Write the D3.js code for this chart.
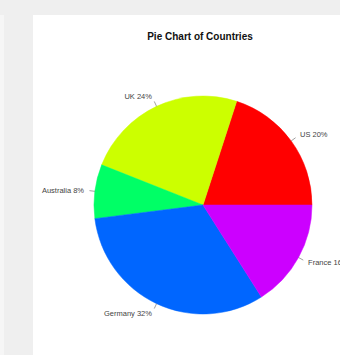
<!DOCTYPE html>
<html>
<head>
<meta charset="utf-8">
<script src="https://cdn.jsdelivr.net/npm/d3@7"></script>
<style>
  html, body { margin: 0; padding: 0; background: #efefef; }
  svg { display: block; }
</style>
</head>
<body>
<svg id="chart" width="340" height="355"></svg>
<script>
const countries = ["US", "UK", "Australia", "Germany", "France"];
const shares = [20, 24, 8, 32, 16];
const colors = ["#FF0000", "#CCFF00", "#00FF66", "#0066FF", "#CC00FF"];
const chartTitle = "Pie Chart of Countries";

const svg = d3.select("#chart");
// page frame
svg.append("rect").attr("x", 0).attr("y", 0).attr("width", 340).attr("height", 355).attr("fill", "#efefef");
svg.append("rect").attr("x", 0).attr("y", 15).attr("width", 4).attr("height", 340).attr("fill", "#f6f6f6");
svg.append("rect").attr("x", 33).attr("y", 15).attr("width", 307).attr("height", 340).attr("fill", "#ffffff");

const cx = 203, cy = 205, r = 109;

svg.append("text")
  .attr("x", 200).attr("y", 40)
  .attr("text-anchor", "middle")
  .attr("font-family", "Liberation Sans, Arial, sans-serif")
  .attr("font-weight", "bold")
  .attr("font-size", 10)
  .attr("fill", "#111")
  .text(chartTitle);

const data = countries.map((c, i) => ({ name: c, value: shares[i], color: colors[i] }));

const pie = d3.pie().sort(null).value(d => d.value)
  .startAngle(Math.PI / 2).endAngle(Math.PI / 2 - 2 * Math.PI);
const arcs = pie(data);
const arc = d3.arc().innerRadius(0).outerRadius(r);

const g = svg.append("g").attr("transform", `translate(${cx},${cy})`);
g.selectAll("path.slice").data(arcs).join("path")
  .attr("class", "slice")
  .attr("d", arc)
  .attr("fill", d => d.data.color)
  .attr("stroke", d => d.data.color)
  .attr("stroke-width", 0.5);

const mid = d => (d.startAngle + d.endAngle) / 2;
g.selectAll("line.tick").data(arcs).join("line")
  .attr("class", "tick")
  .attr("x1", d => r * Math.sin(mid(d)))
  .attr("y1", d => -r * Math.cos(mid(d)))
  .attr("x2", d => 1.05 * r * Math.sin(mid(d)))
  .attr("y2", d => -1.05 * r * Math.cos(mid(d)))
  .attr("stroke", "#777").attr("stroke-width", 0.7);

g.selectAll("text.lbl").data(arcs).join("text")
  .attr("class", "lbl")
  .attr("x", d => 1.1 * r * Math.sin(mid(d)))
  .attr("y", d => -1.1 * r * Math.cos(mid(d)))
  .attr("dy", "0.35em")
  .attr("text-anchor", d => Math.sin(mid(d)) >= 0 ? "start" : "end")
  .attr("font-family", "Liberation Sans, Arial, sans-serif")
  .attr("font-size", 7.5)
  .attr("fill", "#444")
  .text(d => `${d.data.name} ${d.data.value}%`);
</script>
</body>
</html>
